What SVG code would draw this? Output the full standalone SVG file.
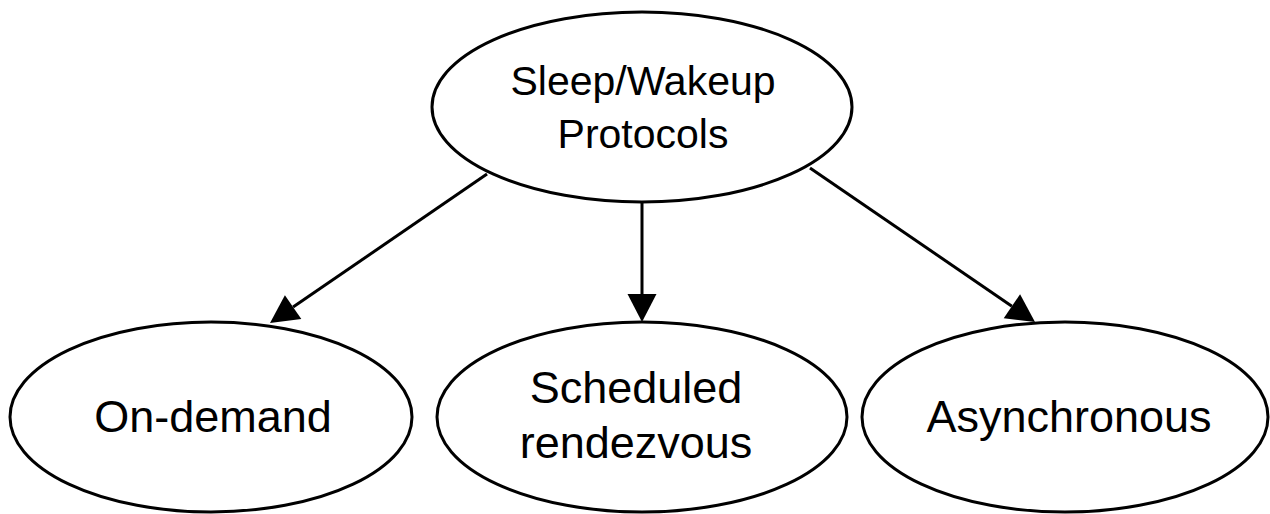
<svg xmlns="http://www.w3.org/2000/svg" width="1270" height="514" viewBox="0 0 1270 514">
<defs>
<style>
.node ellipse{fill:#fff;stroke:#000;stroke-width:3}
.t{font-family:"Liberation Sans",Arial,sans-serif;fill:#000;text-anchor:middle}
.top{font-size:41px}
.bot{font-size:45px}
.edge{stroke:#000;stroke-width:3;fill:none;marker-end:url(#ah)}
</style>
<marker id="ah" markerUnits="userSpaceOnUse" orient="auto" markerWidth="28" markerHeight="29" refX="0" refY="14.5" overflow="visible">
<path d="M0,0 L28,14.5 L0,29 Z" fill="#000"/>
</marker>
</defs>
<rect width="1270" height="514" fill="#fff"/>
<g id="connectors">
<line class="edge" x1="487" y1="174" x2="293.1" y2="307.1"/>
<line class="edge" x1="642" y1="202" x2="642" y2="294"/>
<line class="edge" x1="810" y1="168" x2="1011.9" y2="306.2"/>
</g>
<g id="root" class="node">
<ellipse cx="642" cy="107" rx="210" ry="95"/>
<text class="t top" x="643" y="95">Sleep/Wakeup</text>
<text class="t top" x="643" y="148">Protocols</text>
</g>
<g id="ondemand" class="node">
<ellipse cx="211" cy="417" rx="201" ry="95"/>
<text class="t bot" x="213" y="432">On-demand</text>
</g>
<g id="scheduled" class="node">
<ellipse cx="642" cy="417" rx="205" ry="95"/>
<text class="t bot" x="636" y="403">Scheduled</text>
<text class="t bot" x="636" y="458">rendezvous</text>
</g>
<g id="async" class="node">
<ellipse cx="1065" cy="417" rx="203" ry="95"/>
<text class="t bot" x="1069" y="432">Asynchronous</text>
</g>
</svg>
